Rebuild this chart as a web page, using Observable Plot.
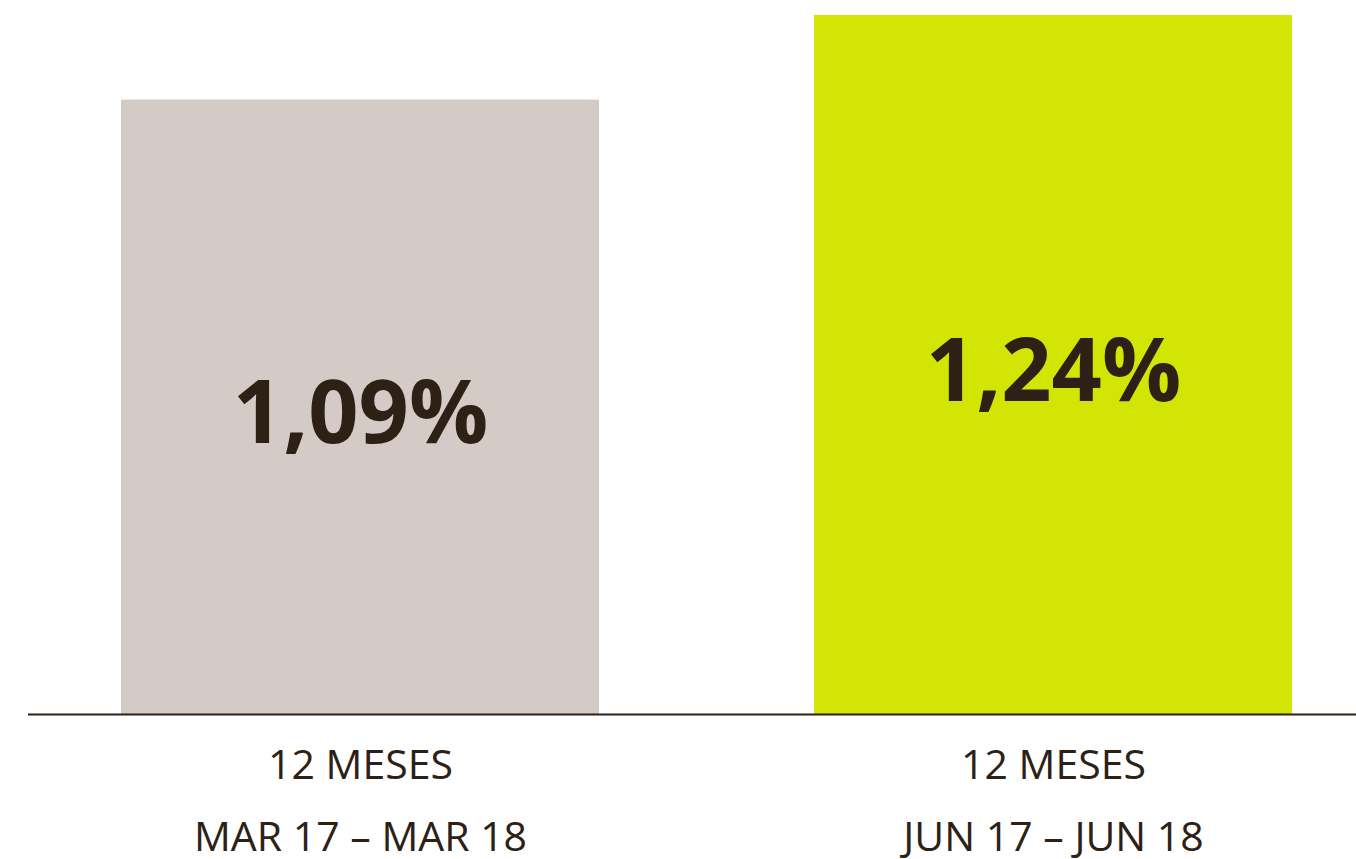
<!DOCTYPE html>
<html>
<head>
<meta charset="utf-8">
<script src="https://cdn.jsdelivr.net/npm/d3@7"></script>
<script src="https://cdn.jsdelivr.net/npm/@observablehq/plot@0.6"></script>
<style>
  html, body { margin: 0; padding: 0; background: #ffffff; }
  #chart svg { display: block; }
</style>
</head>
<body>
<div id="chart"></div>
<script>
const categories = ["MAR", "JUN"];
const values = [1.09, 1.24];
const valueLabels = ["1,09%", "1,24%"];
const periodLine1 = ["12 MESES", "12 MESES"];
const periodLine2 = ["MAR 17 – MAR 18", "JUN 17 – JUN 18"];
const barColors = ["#d5cbc6", "#d2e504"];

const data = categories.map((c, i) => ({
  cat: c, value: values[i], label: valueLabels[i],
  tick: periodLine1[i] + "\n" + periodLine2[i], color: barColors[i]
}));
const tickMap = new Map(data.map(d => [d.cat, d.tick]));
const ink = "#2d2116";

const chart = Plot.plot({
  width: 1356,
  height: 859,
  marginTop: 0,
  marginBottom: 145,
  marginLeft: 28,
  marginRight: 0,
  style: { background: "#ffffff", fontFamily: "'Open Sans', sans-serif" },
  x: { domain: categories, range: [121, 1293], paddingInner: 0.31, paddingOuter: 0, axis: null },
  y: { domain: [0, 1.2666], axis: null },
  marks: [
    Plot.barY(data, { x: "cat", y: "value", fill: "color" }),
    Plot.ruleY([0], { stroke: ink, strokeWidth: 2 }),
    Plot.text(data, { x: "cat", y: d => d.value / 2, text: "label", fill: ink,
      fontSize: 88, fontWeight: "bold", dy: 8, fontFamily: "'Open Sans', sans-serif" }),
    Plot.axisX({ domain: categories, tickSize: 0, tickPadding: 14, fontSize: 41,
      lineHeight: 1.75, tickFormat: c => tickMap.get(c), fill: ink, label: null,
      fontFamily: "'Open Sans', sans-serif" })
  ]
});
document.getElementById("chart").appendChild(chart);
</script>
</body>
</html>
